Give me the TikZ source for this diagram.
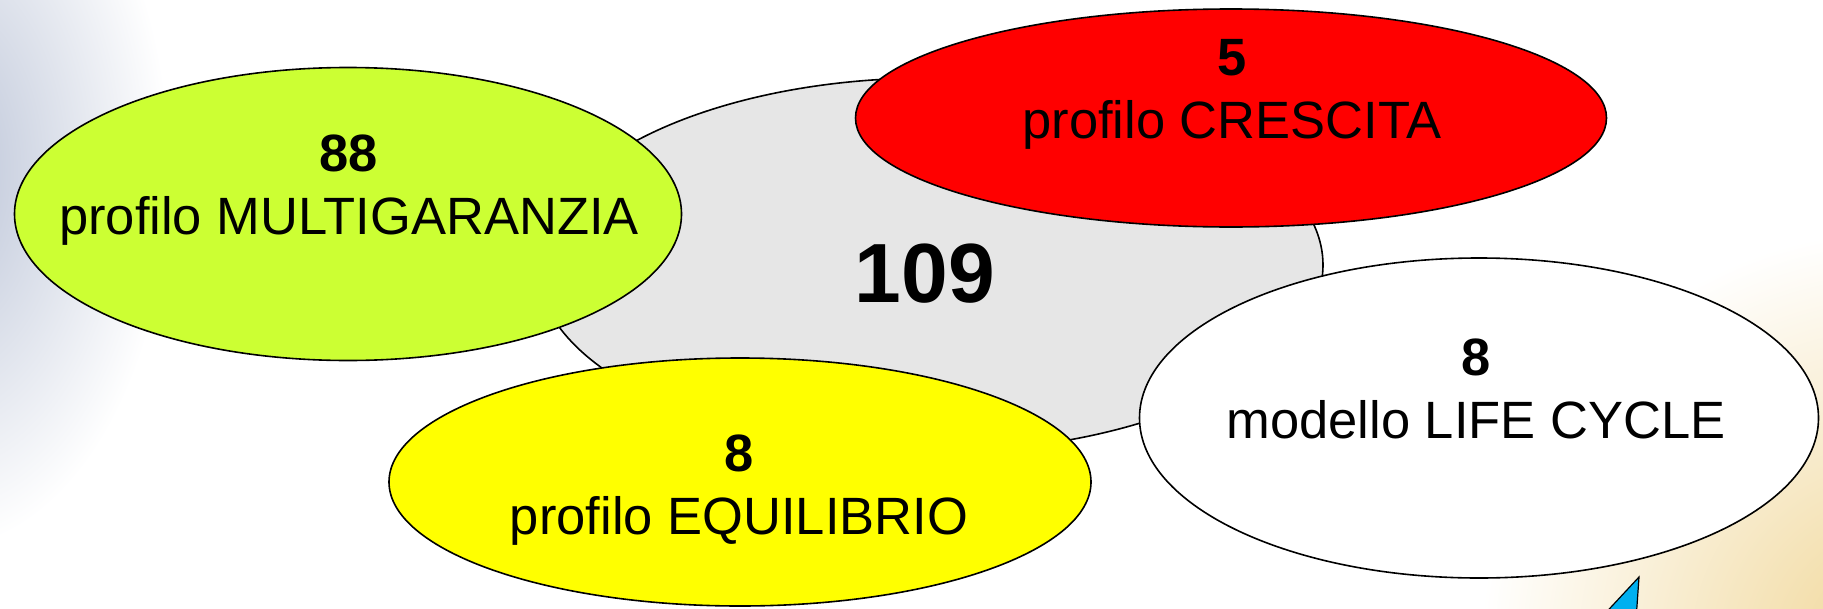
\documentclass[tikz,border=0pt]{standalone}
\usepackage{fontspec}
\setmainfont{Liberation Sans}
\usetikzlibrary{shapes.geometric}
\definecolor{cgray}{RGB}{230,230,230}
\definecolor{cgreen}{RGB}{204,255,51}
\definecolor{cred}{RGB}{255,0,0}
\definecolor{cyellow}{RGB}{255,255,0}
\definecolor{cblue}{RGB}{0,176,240}
\definecolor{bgblue}{RGB}{185,194,214}
\definecolor{bgbeige}{RGB}{240,214,150}
\begin{document}
\begin{tikzpicture}[x=1pt,y=-1pt,
  blob/.style={ellipse, draw=black, line width=1.6pt, inner sep=0pt},
  lbl/.style={align=center, font=\fontsize{52.5}{63}\selectfont, inner sep=0pt}]
\useasboundingbox (0,0) rectangle (1823,608);
\begin{scope}
\clip (0,0) rectangle (1823,608);
\fill[white] (0,0) rectangle (1823,608);
\shade[inner color=bgblue, outer color=white] (-60,170) ellipse (230 and 380);
\shade[inner color=bgbeige, outer color=white] (1900,650) circle (420);
\end{scope}
% ellipses
\node[blob, fill=cgray, minimum width=786, minimum height=374] (gray) at (930,265) {};
\node[blob, fill=cgreen, minimum width=667, minimum height=293] (green) at (348,214) {};
\node[blob, fill=cred, minimum width=751, minimum height=218] (red) at (1231,118) {};
\node[blob, fill=cyellow, minimum width=702, minimum height=248] (yellow) at (740,482) {};
\node[blob, fill=white, minimum width=679, minimum height=320] (white) at (1479,418) {};
% texts
\node[inner sep=0pt, font=\fontsize{84}{96}\selectfont\bfseries] (t109) at (925,274) {109};
\node[lbl] (tgreen) at (349,190) {\textbf{88}\\profilo MULTIGARANZIA};
\node[lbl] (tred) at (1232,94) {\textbf{5}\\profilo CRESCITA};
\node[lbl] (twhite) at (1476,389) {\textbf{8}\\modello LIFE CYCLE};
\node[lbl] (tyellow) at (739,490) {\textbf{8}\\profilo EQUILIBRIO};
% blue pointer
\begin{scope}
\clip (0,0) rectangle (1823,608);
\draw[fill=cblue, line width=1.2pt] (1639,577) -- (1599,620) -- (1636,620) -- cycle;
\end{scope}
\end{tikzpicture}
\end{document}
